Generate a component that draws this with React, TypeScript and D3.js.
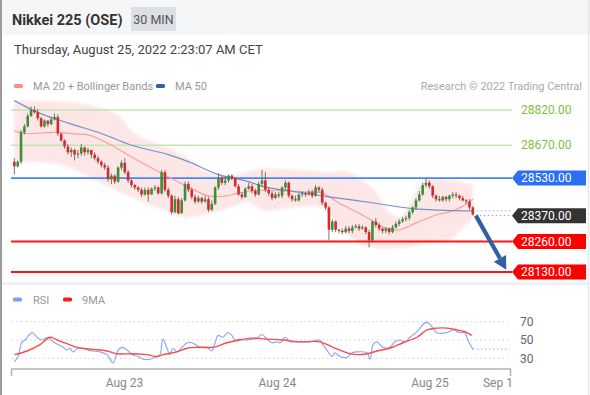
import React from 'react';
import * as d3 from 'd3';

// [open, high, low, close] per 30-min bar
const candles: [number, number, number, number][] = [
  [28600,28615,28545,28580],[28580,28605,28575,28600],[28600,28735,28590,28725],[28725,28760,28715,28750],
  [28750,28805,28745,28795],[28795,28835,28790,28820],[28820,28835,28805,28810],[28810,28825,28775,28785],
  [28785,28790,28745,28750],[28750,28780,28745,28775],[28775,28775,28750,28760],[28760,28790,28755,28780],
  [28780,28805,28775,28790],[28790,28800,28710,28720],[28720,28720,28685,28690],[28690,28695,28655,28665],
  [28665,28675,28630,28640],[28640,28660,28620,28650],[28650,28655,28605,28630],[28630,28650,28615,28635],
  [28635,28675,28625,28660],[28660,28665,28625,28640],[28640,28660,28630,28650],[28650,28650,28615,28630],
  [28630,28640,28605,28615],[28615,28625,28590,28600],[28600,28605,28575,28585],[28585,28595,28565,28575],
  [28575,28585,28515,28525],[28525,28550,28505,28540],[28540,28545,28505,28515],[28515,28580,28510,28575],
  [28575,28605,28565,28595],[28595,28615,28545,28555],[28555,28565,28510,28520],[28520,28525,28490,28500],
  [28500,28505,28480,28490],[28490,28495,28470,28480],[28480,28490,28450,28460],[28460,28490,28455,28480],
  [28480,28490,28430,28460],[28460,28490,28460,28485],[28485,28500,28475,28490],[28490,28495,28460,28465],
  [28465,28565,28460,28555],[28555,28565,28470,28480],[28480,28490,28445,28455],[28455,28460,28375,28385],
  [28385,28455,28380,28440],[28440,28450,28375,28380],[28380,28445,28380,28435],[28435,28515,28430,28505],
  [28505,28515,28470,28480],[28480,28490,28440,28450],[28450,28460,28420,28430],[28430,28455,28425,28445],
  [28445,28450,28420,28430],[28430,28455,28425,28440],[28440,28450,28385,28395],[28395,28435,28390,28420],
  [28420,28495,28415,28490],[28490,28550,28480,28530],[28530,28540,28500,28510],[28510,28535,28500,28520],
  [28520,28545,28510,28540],[28540,28545,28520,28530],[28530,28535,28490,28495],[28495,28505,28455,28460],
  [28460,28470,28440,28450],[28450,28490,28445,28485],[28485,28510,28480,28495],[28495,28505,28465,28475],
  [28475,28485,28450,28460],[28460,28515,28455,28505],[28505,28565,28495,28520],[28520,28555,28470,28480],
  [28480,28490,28455,28465],[28465,28475,28435,28445],[28445,28470,28440,28460],[28460,28470,28445,28455],
  [28455,28495,28445,28490],[28490,28520,28480,28510],[28510,28515,28445,28455],[28455,28460,28430,28440],
  [28440,28455,28430,28435],[28435,28465,28430,28460],[28460,28475,28450,28465],[28465,28470,28450,28460],
  [28460,28480,28455,28470],[28470,28480,28445,28455],[28455,28500,28450,28490],[28490,28495,28470,28480],
  [28480,28490,28415,28425],[28425,28430,28395,28405],[28405,28410,28265,28310],[28310,28355,28300,28345],
  [28345,28350,28300,28310],[28310,28315,28295,28305],[28305,28315,28290,28300],[28300,28325,28295,28315],
  [28315,28325,28295,28305],[28305,28330,28295,28320],[28320,28335,28315,28325],[28325,28335,28305,28315],
  [28315,28330,28310,28320],[28320,28325,28290,28300],[28300,28310,28235,28265],[28265,28350,28255,28345],
  [28345,28360,28320,28330],[28330,28340,28305,28315],[28315,28320,28295,28305],[28305,28320,28295,28315],
  [28315,28320,28290,28300],[28300,28330,28295,28320],[28320,28345,28315,28335],[28335,28355,28325,28345],
  [28345,28365,28340,28355],[28355,28370,28345,28360],[28360,28395,28350,28385],[28385,28410,28375,28405],
  [28405,28445,28395,28435],[28435,28475,28430,28460],[28460,28510,28455,28500],[28500,28530,28490,28510],
  [28510,28520,28485,28495],[28495,28500,28445,28455],[28455,28460,28430,28440],[28440,28455,28430,28435],
  [28435,28455,28430,28450],[28450,28455,28430,28440],[28440,28460,28430,28455],[28455,28470,28445,28460],
  [28460,28470,28445,28455],[28455,28460,28435,28445],[28445,28455,28430,28435],[28435,28440,28420,28430],
  [28430,28440,28395,28405],[28405,28410,28370,28375],
];

// [bar index, value]
const ma50: [number, number][] = [
  [0,28860],[7,28810],[16,28765],[26,28720],[35,28670],[46,28630],[52,28600],[61,28545],
  [70,28515],[74,28495],[85,28470],[94,28450],[107,28425],[119,28400],[137,28390],
];
const ma20: [number, number][] = [
  [0,28730],[4,28720],[8,28722],[13,28726],[18,28718],[22,28714],[26,28692],[30,28662],[34,28628],
  [41,28573],[52,28492],[58,28454],[63,28454],[67,28466],[74,28479],[85,28471],[92,28466],[97,28424],
  [104,28373],[111,28317],[115,28309],[120,28339],[126,28373],[131,28390],[136,28428],[137,28441],
];
const bbUpper: [number, number][] = [
  [0,28860],[8,28858],[19,28850],[26,28829],[31,28799],[35,28731],[40,28692],[46,28658],[52,28616],
  [55,28573],[60,28547],[65,28543],[74,28569],[85,28564],[94,28556],[99,28560],[103,28530],[108,28471],
  [112,28386],[115,28364],[118,28415],[121,28501],[124,28526],[130,28522],[137,28501],
];
const bbLower: [number, number][] = [
  [0,28600],[11,28594],[16,28577],[26,28509],[35,28449],[46,28386],[51,28364],[59,28381],[65,28407],
  [70,28428],[74,28394],[85,28407],[92,28403],[97,28322],[104,28245],[114,28232],[124,28254],[130,28266],
  [134,28317],[137,28360],
];

const rsi: [number, number][] = [
  [0,26],[1.1,32],[2.3,48],[3.2,50],[5.3,58],[6.8,53],[8.3,50],[10.1,53],[11.6,48],[13.1,45],[14.6,42],
  [15.7,39],[16.6,41],[17.5,37],[19,41],[20.5,41],[22,39],[23.5,38],[25.6,37],[27.7,34],[29.5,25],[31,39],
  [32.2,42],[33.7,39],[35.2,34],[37,32],[38.5,29],[40.5,29],[42.6,32],[43.5,34],[44.4,51],[45.6,41],
  [46.5,34],[47.4,41],[48.6,37],[50.1,42],[51.6,47],[53.1,47],[55.5,42],[57.6,42],[59,38],[60,47],
  [60.9,55],[62.3,53],[63.8,58],[65,55],[65.9,50],[67.4,51],[68.9,50],[71,51],[72.5,52],[74,56],[75.5,51],
  [77,47],[78.5,48],[79.4,47],[80.9,53],[82.4,48],[83.9,48],[85.4,48],[88.3,48],[91.3,50],[92.2,45],
  [93.4,39],[94.9,32],[95.8,36],[97.3,32],[99.4,31],[100.9,36],[102.4,37],[105.4,36],[106.3,29],[107.2,45],
  [108.4,48],[110.1,42],[112.2,42],[113.7,48],[115.2,50],[116.7,48],[118.2,53],[120.3,59],[121.2,63],
  [122.7,69],[123.6,69],[125.1,63],[126.3,58],[129.3,58],[131.1,61],[133.1,58],[134.6,58],[135.5,50],[137,40],
];
const rsiMa: [number, number][] = [
  [0,34],[3.8,38],[7.7,45],[10.7,53],[12.8,50],[15.7,46],[18.7,42],[22.6,40],[27.7,38],[30.7,35],[35.5,35],
  [39.6,34],[42.6,32],[44.4,34],[48.6,37],[51.6,41],[55.5,42],[59.4,42],[63.5,47],[67.4,50],[70.4,52],
  [75.5,51],[80.3,50],[85.4,48],[91.3,48],[95.2,42],[99.4,36],[102.4,34],[105.4,35],[108.4,38],[112.2,41],
  [116.1,47],[120.3,53],[123.3,61],[126.3,63],[129.3,63],[132.3,61],[134.6,59],[136.7,55],
];

const resistances = [28820, 28670];
const pivot = 28530;
const lastPrice = 28370;
const supports = [28260, 28130];
const target = { idx: 147, price: 28140 };

const rsiLevels = [70, 50, 30];
const xTicks: { label: string; idx: number }[] = [
  { label: 'Aug 23', idx: 32.9 },
  { label: 'Aug 24', idx: 78.6 },
  { label: 'Aug 25', idx: 124.2 },
  { label: 'Sep 1', idx: 144.5 },
];

const FONT = "Roboto, 'Noto Sans', Arial, sans-serif";

export default function App() {
  const W = 590, H = 395;
  const x = d3.scaleLinear().domain([-1, 148.4]).range([11, 511]);
  const y = d3.scaleLinear().domain([28130, 28820]).range([272, 110]);
  const yr = d3.scaleLinear().domain([30, 70]).range([358.3, 321.7]);

  const pLine = d3.line<[number, number]>().x(d => x(d[0])).y(d => y(d[1])).curve(d3.curveCatmullRom.alpha(0.5));
  const rLine = d3.line<[number, number]>().x(d => x(d[0])).y(d => yr(d[1])).curve(d3.curveCatmullRom.alpha(0.5));
  const bandPath = (pLine(bbUpper) || '') + (pLine([...bbLower].reverse()) || '').replace(/^M/, 'L') + 'Z';

  const lineX0 = 11, lineX1 = 512;
  const lastIdx = candles.length - 1;

  const labelBox = (price: number, fill: string) => {
    const cy = y(price);
    const pts = [[512, cy], [518, cy - 7.5], [586, cy - 7.5], [586, cy + 7.5], [518, cy + 7.5]];
    return (
      <g key={'lb' + price}>
        <polygon points={pts.map(p => p.join(',')).join(' ')} fill={fill} />
        <text x={521} y={cy + 4.2} fill="#fff" fontSize={12} fontFamily={FONT}>{price.toFixed(2)}</text>
      </g>
    );
  };

  // arrow
  const ax0 = x(lastIdx) + 3, ay0 = y(lastPrice);
  const ax1 = x(target.idx), ay1 = y(target.price);
  const ang = Math.atan2(ay1 - ay0, ax1 - ax0);
  const headL = 13, headW = 7;
  const bx = ax1 - headL * Math.cos(ang), by = ay1 - headL * Math.sin(ang);
  const nx = -Math.sin(ang), ny = Math.cos(ang);
  const head = [[ax1, ay1], [bx + nx * headW, by + ny * headW], [bx - nx * headW, by - ny * headW]];

  return (
    <svg width={W} height={H} style={{ position: 'absolute', left: 0, top: 0, background: '#fff' }} fontFamily={FONT}>
      <defs>
        <filter id="soft" x="-5%" y="-5%" width="110%" height="110%">
          <feGaussianBlur stdDeviation="1.6" />
        </filter>
      </defs>
      {/* header */}
      <rect x={0} y={0} width={W} height={35} fill="#f5f6f7" />
      <text x={12} y={25} fontSize={14.5} fontWeight="bold" fill="#333">Nikkei 225 (OSE)</text>
      <rect x={131} y={7} width={45} height={24} fill="#dcdfe3" />
      <text x={153.5} y={24} fontSize={12.5} fill="#555" textAnchor="middle">30 MIN</text>
      <text x={14} y={53.5} fontSize={13} fill="#444">Thursday, August 25, 2022 2:23:07 AM CET</text>

      {/* legend */}
      <rect x={14} y={84} width={9} height={4} rx={1.5} fill="#ff8a8a" />
      <text x={33} y={90} fontSize={11} fill="#999">MA 20 + Bollinger Bands</text>
      <rect x={156} y={84} width={9} height={4} rx={1.5} fill="#2e5ea8" />
      <text x={175} y={90} fontSize={11} fill="#999">MA 50</text>
      <text x={582} y={90} fontSize={11} fill="#aaa" textAnchor="end">Research © 2022 Trading Central</text>

      {/* bollinger band */}
      <path d={bandPath} fill="#fde0e0" opacity={0.8} filter="url(#soft)" />

      {/* level lines */}
      {resistances.map(p => (
        <line key={'r' + p} x1={lineX0} x2={lineX1} y1={y(p)} y2={y(p)} stroke="#c3e5af" strokeWidth={1.5} />
      ))}
      <line x1={lineX0} x2={lineX1} y1={y(pivot)} y2={y(pivot)} stroke="#4a86f2" strokeWidth={1.6} />
      {supports.map(p => (
        <line key={'s' + p} x1={lineX0} x2={lineX1} y1={y(p)} y2={y(p)} stroke="#ff1414" strokeWidth={2} />
      ))}

      {/* moving averages */}
      <path d={pLine(ma20) || ''} fill="none" stroke="#f7a0a0" strokeWidth={1.2} />
      <path d={pLine(ma50) || ''} fill="none" stroke="#7293cc" strokeWidth={1.2} />
      <line x1={x(lastIdx)} x2={lineX1} y1={y(ma50[ma50.length - 1][1])} y2={y(ma50[ma50.length - 1][1])}
        stroke="#9fb4dc" strokeWidth={1} strokeDasharray="1.5,2.5" />
      <line x1={x(lastIdx) + 3} x2={lineX1} y1={y(lastPrice)} y2={y(lastPrice)}
        stroke="#9a9a9a" strokeWidth={1} strokeDasharray="1.5,2.5" />

      {/* candles */}
      {candles.map((c, i) => {
        const [o, h, l, cl] = c;
        const up = cl >= o;
        const top = y(Math.max(o, cl)), bot = y(Math.min(o, cl));
        return (
          <g key={'c' + i}>
            <line x1={x(i)} x2={x(i)} y1={y(h)} y2={y(l)} stroke="#555" strokeWidth={0.8} />
            <rect x={x(i) - 1.3} y={top} width={2.6} height={Math.max(1, bot - top)}
              fill={up ? '#3b8f35' : '#d42a2a'} />
          </g>
        );
      })}

      {/* arrow */}
      <line x1={ax0} y1={ay0} x2={bx} y2={by} stroke="#2f5fa5" strokeWidth={4.2} />
      <polygon points={head.map(p => p.join(',')).join(' ')} fill="#2f5fa5" />

      {/* labels */}
      {resistances.map(p => (
        <text key={'rt' + p} x={521} y={y(p) + 4.2} fontSize={12} fill="#7cc142">{p.toFixed(2)}</text>
      ))}
      {labelBox(pivot, '#2b6ff2')}
      {labelBox(lastPrice, '#333333')}
      {supports.map(p => labelBox(p, '#ff0000'))}

      {/* separator */}
      <rect x={2} y={282} width={586} height={3} fill="#f0f0f0" />

      {/* RSI panel */}
      <rect x={13} y={297.5} width={9} height={4} rx={1.5} fill="#7f9ef0" />
      <text x={33} y={303.5} fontSize={11} fill="#999">RSI</text>
      <rect x={63} y={297.5} width={9} height={4} rx={1.5} fill="#ff1a1a" />
      <text x={82} y={303.5} fontSize={11} fill="#999">9MA</text>
      {rsiLevels.map(v => (
        <g key={'rl' + v}>
          <line x1={12} x2={508} y1={yr(v)} y2={yr(v)} stroke="#cfcfcf" strokeWidth={1} strokeDasharray="1.5,3" />
          <text x={520} y={yr(v) + 4.3} fontSize={12} fill="#666">{v}</text>
        </g>
      ))}
      <path d={rLine(rsi) || ''} fill="none" stroke="#8ea9f2" strokeWidth={1.2} />
      <line x1={x(rsi[rsi.length - 1][0])} x2={x(148)} y1={yr(rsi[rsi.length - 1][1])} y2={yr(rsi[rsi.length - 1][1])}
        stroke="#8ea9f2" strokeWidth={1} strokeDasharray="1.5,2.5" />
      <path d={rLine(rsiMa) || ''} fill="none" stroke="#ff4a4a" strokeWidth={1.4} />

      {/* x axis */}
      <line x1={11} x2={511} y1={369} y2={369} stroke="#b0b0b0" strokeWidth={1.5} />
      <line x1={11.5} x2={11.5} y1={369} y2={376} stroke="#b0b0b0" strokeWidth={1.5} />
      <line x1={510.5} x2={510.5} y1={369} y2={376} stroke="#b0b0b0" strokeWidth={1.5} />
      {xTicks.map(t => (
        <text key={t.label} x={x(t.idx)} y={387} fontSize={12} fill="#888" textAnchor="middle">{t.label}</text>
      ))}

      {/* borders */}
      <line x1={1} x2={1} y1={0} y2={H} stroke="#9c9c9c" strokeWidth={2} />
      <line x1={588.5} x2={588.5} y1={0} y2={H} stroke="#e8e8e8" strokeWidth={1.5} />
    </svg>
  );
}
